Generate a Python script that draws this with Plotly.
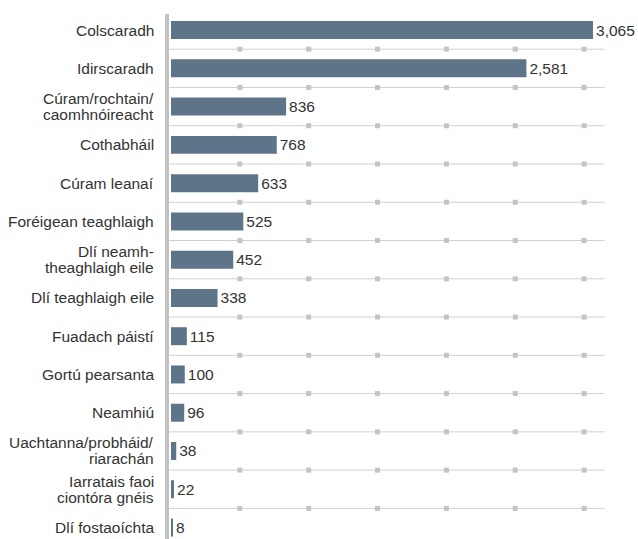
import plotly.graph_objects as go

categories = [
    "Colscaradh",
    "Idirscaradh",
    "Cúram/rochtain/\ncaomhnóireacht",
    "Cothabháil",
    "Cúram leanaí",
    "Foréigean teaghlaigh",
    "Dlí neamh-\ntheaghlaigh eile",
    "Dlí teaghlaigh eile",
    "Fuadach páistí",
    "Gortú pearsanta",
    "Neamhiú",
    "Uachtanna/probháid/\nriarachán",
    "Iarratais faoi\nciontóra gnéis",
    "Dlí fostaoíchta",
]
values = [3065, 2581, 836, 768, 633, 525, 452, 338, 115, 100, 96, 38, 22, 8]
grid_ticks = [500, 1000, 1500, 2000, 2500, 3000]

BAR_COLOR = "#5e7489"
GRID_COLOR = "#d0d0d0"
MARK_COLOR = "#c4c4c4"
TEXT_COLOR = "#333333"
FONT = "Liberation Sans, Arial, sans-serif"
FS = 15.5
LINE_H = 16
GRID_END = 3150

n = len(categories)
idx = list(range(n))

fig = go.Figure()
fig.add_trace(go.Bar(
    x=values, y=idx, orientation="h",
    marker=dict(color=BAR_COLOR, line=dict(width=0)),
    width=0.47,
    text=[f"{v:,}" for v in values], textposition="outside",
    textfont=dict(family=FONT, size=FS, color=TEXT_COLOR),
    cliponaxis=False, hoverinfo="skip",
))

# gridline markers between bars
mx, my = [], []
for i in range(n - 1):
    for t in grid_ticks:
        mx.append(t)
        my.append(i + 0.5)
fig.add_trace(go.Scatter(
    x=mx, y=my, mode="markers",
    marker=dict(symbol="square", size=5, color=MARK_COLOR, line=dict(width=0)),
    hoverinfo="skip", cliponaxis=False,
))

shapes = []
for i in range(n - 1):
    shapes.append(dict(type="line", xref="x", yref="y", x0=-14, x1=GRID_END,
                       y0=i + 0.5, y1=i + 0.5, layer="below",
                       line=dict(color=GRID_COLOR, width=1)))

annotations = []
for i, lab in enumerate(categories):
    lines = lab.split("\n")
    k = len(lines)
    for j, ln in enumerate(lines):
        annotations.append(dict(
            xref="paper", yref="y", x=0, y=i, xanchor="right", yanchor="middle",
            xshift=-13, yshift=((k - 1) / 2 - j) * LINE_H,
            text=ln, showarrow=False,
            font=dict(family=FONT, size=FS, color=TEXT_COLOR),
        ))

fig.update_layout(
    width=638, height=539,
    margin=dict(l=169, r=0, t=14, b=0),
    paper_bgcolor="white", plot_bgcolor="white",
    showlegend=False,
    shapes=shapes, annotations=annotations,
    xaxis=dict(range=[-14.5, 3391.5], showgrid=False, zeroline=False,
               showticklabels=False, ticks="", fixedrange=True),
    yaxis=dict(range=[13.3, -0.42], showgrid=False, zeroline=False,
               showticklabels=False, ticks="", showline=True,
               linecolor="#c2c2c2", linewidth=4, fixedrange=True),
)

fig.write_html("out.html", config={"displayModeBar": False},
               post_script="document.body.style.margin='0px';document.body.style.overflow='hidden';")
